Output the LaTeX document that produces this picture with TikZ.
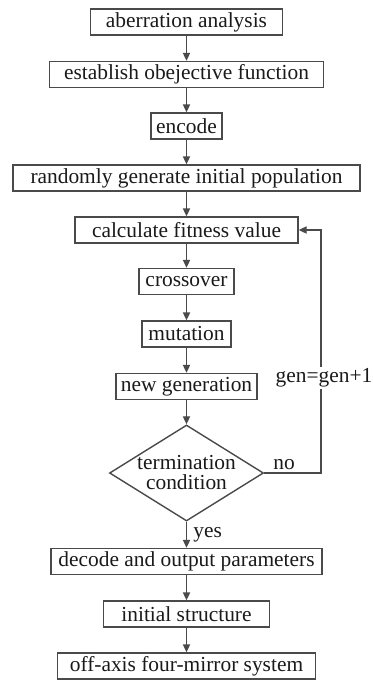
\documentclass[tikz,border=0pt]{standalone}
\usepackage{fontspec}
\setmainfont{Liberation Serif}
\usepackage{tikz}
\usetikzlibrary{arrows.meta,positioning,shapes.geometric}
\definecolor{ink}{HTML}{1A1A1A}
\definecolor{frame}{HTML}{4A4A4A}
\tikzset{
  stepbox/.style={draw=frame,fill=white,line width=0.7pt,
                  minimum height=13pt,inner sep=1.5pt,
                  align=center,text=ink,font=\fontsize{10.7}{12}\selectfont},
  testdiamond/.style={diamond,draw=frame,fill=white,line width=0.7pt,
                      shape aspect=1.6,inner sep=0pt,
                      minimum width=77pt,minimum height=48pt,
                      align=center,text=ink,
                      font=\fontsize{10.7}{10}\selectfont},
  looplabel/.style={text=ink,inner sep=1pt,font=\fontsize{10.7}{12}\selectfont},
  flowarr/.style={-{Triangle[length=4pt,width=3.6pt]},line width=0.7pt,draw=frame}
}
\begin{document}
\begin{tikzpicture}[x=0.5pt,y=-0.5pt]
    \path[use as bounding box] (0,0) rectangle (372,680);
    \node[stepbox,minimum width=96pt] (aber) at (186.5,22)
      {aberration analysis};
    \node[stepbox,minimum width=137pt] (obj) at (186.5,74.5)
      {establish obejective function};
    \node[stepbox,minimum width=35.5pt] (enc) at (186.5,126)
      {encode};
    \node[stepbox,minimum width=173.5pt] (pop) at (186.5,178)
      {randomly generate initial population};
    \node[stepbox,minimum width=111.5pt] (fit) at (186.5,230)
      {calculate fitness value};
    \node[stepbox,minimum width=47.5pt] (cross) at (186.5,281.5)
      {crossover};
    \node[stepbox,minimum width=44.5pt] (mut) at (186.5,334)
      {mutation};
    \node[stepbox,minimum width=70.5pt] (newgen) at (186.5,386.5)
      {new generation};
    \node[testdiamond] (cond) at (186.5,473)
      {termination\\condition};
    \node[stepbox,minimum width=135.5pt] (dec) at (186.5,561.5)
      {decode and output parameters};
    \node[stepbox,minimum width=83pt] (init) at (186.5,614)
      {initial structure};
    \node[stepbox,minimum width=129pt] (sys) at (186.5,666)
      {off-axis four-mirror system};

    \draw[flowarr] (aber) -- (obj);
    \draw[flowarr] (obj) -- (enc);
    \draw[flowarr] (enc) -- (pop);
    \draw[flowarr] (pop) -- (fit);
    \draw[flowarr] (fit) -- (cross);
    \draw[flowarr] (cross) -- (mut);
    \draw[flowarr] (mut) -- (newgen);
    \draw[flowarr] (newgen) -- (cond);
    \draw[flowarr] (cond) -- (dec);
    \draw[flowarr] (dec) -- (init);
    \draw[flowarr] (init) -- (sys);

    % loop back
    \coordinate (turn) at (321,473);
    \draw[flowarr] (cond.east) -- (turn) |- (fit.east);
    \node[looplabel,fill=white] (gen) at (324,378) {gen=gen+1};
    \node[looplabel,anchor=south west] (no) at (271,472) {no};
    \node[looplabel,anchor=west] (yes) at (191,535) {yes};
  \end{tikzpicture}
\end{document}
